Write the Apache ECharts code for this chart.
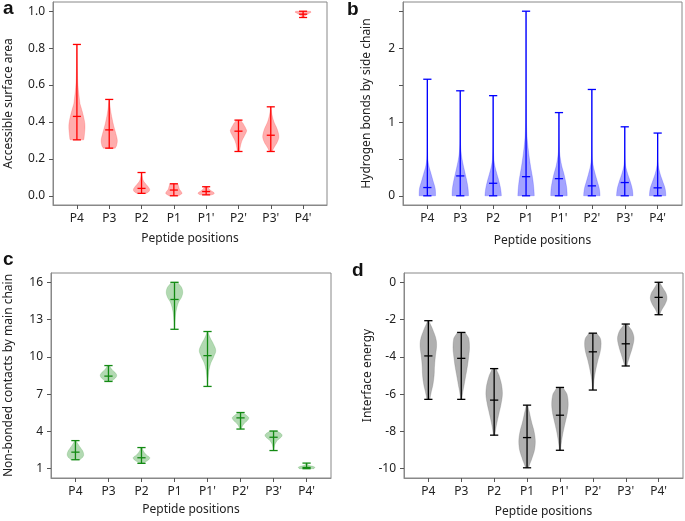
<!DOCTYPE html>
<html><head><meta charset="utf-8">
<script src="https://cdn.jsdelivr.net/npm/echarts@6/dist/echarts.min.js"></script>
<style>html,body{margin:0;padding:0;background:#fff}#c{width:685px;height:521px}</style>
</head><body><div id="c"></div><script>
// ---------- data ----------
const categories = ['P4', 'P3', 'P2', 'P1', "P1'", "P2'", "P3'", "P4'"];

// panel a: Accessible surface area
const asaMin    = [0.303, 0.258, 0.013, 0.000, 0.005, 0.240, 0.240, 0.966];
const asaMax    = [0.820, 0.522, 0.126, 0.065, 0.049, 0.410, 0.482, 1.000];
const asaCenter = [0.430, 0.357, 0.040, 0.031, 0.023, 0.350, 0.328, 0.984];
const asaShape = [
  [[0.82,0.01],[0.7,0.05],[0.6,0.13],[0.5,0.38],[0.45,0.7],[0.4,0.95],[0.37,1.0],[0.34,0.95],[0.31,0.88],[0.303,0.85]],
  [[0.522,0.03],[0.48,0.12],[0.45,0.22],[0.42,0.35],[0.38,0.55],[0.34,0.8],[0.30,1.0],[0.27,0.9],[0.258,0.75]],
  [[0.126,0.03],[0.1,0.1],[0.08,0.25],[0.06,0.6],[0.04,0.95],[0.03,1.0],[0.02,0.85],[0.013,0.6]],
  [[0.065,0.5],[0.05,0.6],[0.035,0.7],[0.02,0.95],[0.012,1.0],[0.005,0.8],[0.0,0.6]],
  [[0.049,0.2],[0.035,0.4],[0.025,0.7],[0.015,1.0],[0.008,0.9],[0.005,0.7]],
  [[0.41,0.3],[0.39,0.6],[0.36,0.95],[0.35,1.0],[0.33,0.8],[0.30,0.45],[0.27,0.25],[0.24,0.15]],
  [[0.482,0.03],[0.44,0.15],[0.40,0.4],[0.36,0.8],[0.32,1.0],[0.29,0.8],[0.26,0.4],[0.24,0.2]],
  [[1.0,0.9],[0.995,1.0],[0.99,0.8],[0.98,0.4],[0.97,0.15],[0.966,0.1]]
];

// panel b: Hydrogen bonds by side chain
const hbMin    = [0, 0, 0, 0, 0, 0, 0, 0];
const hbMax    = [1.583, 1.426, 1.360, 2.507, 1.130, 1.444, 0.937, 0.852];
const hbCenter = [0.112, 0.270, 0.170, 0.260, 0.233, 0.135, 0.180, 0.108];
const hbShape = [
  [[1.583,0.005],[1.0,0.01],[0.7,0.02],[0.5,0.06],[0.4,0.2],[0.3,0.45],[0.2,0.7],[0.1,0.95],[0,1.0]],
  [[1.426,0.005],[1.0,0.01],[0.7,0.04],[0.6,0.1],[0.5,0.22],[0.4,0.4],[0.3,0.6],[0.2,0.8],[0.1,0.95],[0,1.0]],
  [[1.36,0.005],[0.7,0.02],[0.5,0.08],[0.4,0.22],[0.3,0.45],[0.2,0.7],[0.1,0.9],[0,1.0]],
  [[2.507,0.005],[1.5,0.01],[1.0,0.05],[0.8,0.12],[0.6,0.3],[0.4,0.55],[0.2,0.85],[0,1.0]],
  [[1.13,0.005],[0.8,0.02],[0.6,0.07],[0.5,0.18],[0.4,0.35],[0.3,0.6],[0.2,0.8],[0.1,0.95],[0,1.0]],
  [[1.444,0.005],[0.7,0.02],[0.5,0.06],[0.4,0.18],[0.3,0.4],[0.2,0.65],[0.1,0.9],[0,1.0]],
  [[0.937,0.005],[0.5,0.04],[0.4,0.12],[0.3,0.35],[0.2,0.65],[0.1,0.9],[0,1.0]],
  [[0.852,0.005],[0.5,0.03],[0.4,0.1],[0.3,0.3],[0.2,0.6],[0.1,0.9],[0,1.0]]
];

// panel c: Non-bonded contacts by main chain
const ncMin    = [1.72, 8.02, 1.43, 12.22, 7.62, 4.19, 2.46, 1.00];
const ncMax    = [3.26, 9.30, 2.70, 16.00, 12.04, 5.52, 4.03, 1.45];
const ncCenter = [2.33, 8.45, 1.88, 14.62, 10.10, 5.09, 3.53, 1.10];
const ncShape = [
  [[3.26,0.1],[3.0,0.3],[2.7,0.6],[2.4,0.9],[2.1,1.0],[1.9,0.85],[1.72,0.55]],
  [[9.3,0.15],[9.0,0.4],[8.7,0.85],[8.5,1.0],[8.3,0.85],[8.1,0.5],[8.02,0.35]],
  [[2.7,0.1],[2.4,0.25],[2.1,0.6],[1.9,1.0],[1.7,0.85],[1.5,0.4],[1.43,0.3]],
  [[16.0,0.4],[15.6,0.85],[15.2,1.0],[14.8,0.85],[14.4,0.5],[14.0,0.3],[13.5,0.15],[13.0,0.08],[12.5,0.04],[12.22,0.02]],
  [[12.04,0.05],[11.5,0.35],[11.0,0.75],[10.5,1.0],[10.0,0.75],[9.5,0.4],[9.0,0.2],[8.5,0.1],[8.0,0.04],[7.62,0.02]],
  [[5.52,0.3],[5.3,0.7],[5.1,1.0],[4.9,0.85],[4.6,0.4],[4.3,0.15],[4.19,0.1]],
  [[4.03,0.45],[3.8,0.95],[3.6,1.0],[3.3,0.5],[3.0,0.2],[2.7,0.08],[2.46,0.05]],
  [[1.45,0.05],[1.3,0.2],[1.15,0.9],[1.1,1.0],[1.0,0.9]]
];

// panel d: Interface energy
const ieMin    = [-6.28, -6.28, -8.20, -9.95, -9.01, -5.78, -4.49, -1.74];
const ieMax    = [-2.06, -2.69, -4.63, -6.59, -5.64, -2.73, -2.24, 0.00];
const ieCenter = [-3.95, -4.08, -6.32, -8.33, -7.13, -3.73, -3.30, -0.81];
const ieShape = [
  [[-2.06,0.1],[-2.5,0.5],[-3.0,0.9],[-3.4,1.0],[-4.0,0.85],[-4.5,0.75],[-5.0,0.7],[-5.5,0.55],[-6.0,0.3],[-6.28,0.2]],
  [[-2.69,0.5],[-3.0,0.9],[-3.5,1.0],[-4.0,0.9],[-4.5,0.75],[-5.0,0.55],[-5.5,0.35],[-6.0,0.15],[-6.28,0.08]],
  [[-4.63,0.25],[-5.0,0.6],[-5.5,0.9],[-6.0,1.0],[-6.5,0.85],[-7.0,0.6],[-7.5,0.35],[-8.0,0.15],[-8.2,0.1]],
  [[-6.59,0.1],[-7.0,0.3],[-7.5,0.55],[-8.0,0.85],[-8.5,1.0],[-9.0,0.9],[-9.5,0.55],[-9.95,0.2]],
  [[-5.64,0.4],[-6.0,0.85],[-6.5,1.0],[-7.0,0.9],[-7.5,0.65],[-8.0,0.4],[-8.5,0.2],[-9.01,0.07]],
  [[-2.73,0.5],[-3.0,0.9],[-3.3,1.0],[-3.7,0.9],[-4.2,0.6],[-4.7,0.35],[-5.2,0.15],[-5.78,0.05]],
  [[-2.24,0.2],[-2.6,0.75],[-3.0,1.0],[-3.5,0.8],[-4.0,0.45],[-4.49,0.15]],
  [[0,0.15],[-0.3,0.5],[-0.6,0.9],[-0.9,1.0],[-1.2,0.75],[-1.5,0.35],[-1.74,0.15]]
];

// tick values
const asaTicks = [0, 0.2, 0.4, 0.6, 0.8, 1.0];
const hbTicks = [0, 0.5, 1, 1.5, 2, 2.5];
const hbLabels = [0, 1, 2];
const ncTicks = [1, 4, 7, 10, 13, 16];
const ieTicks = [-10, -8, -6, -4, -2, 0];

// ---------- rendering ----------
const FONT = 'Noto Sans';
const HALF = 0.25;   // max half width of a violin (category units)
const CAP = 0.125;   // half width of the extrema / center lines
const xPositions = categories.map((c, i) => i + 1);

function smoothProfile(p) {
  const out = [];
  const n = p.length;
  for (let k = 0; k < n - 1; k++) {
    const w0 = p[Math.max(k - 1, 0)][1], w1 = p[k][1], w2 = p[k + 1][1], w3 = p[Math.min(k + 2, n - 1)][1];
    const steps = 8;
    for (let s = 0; s < steps; s++) {
      const t = s / steps;
      const v = p[k][0] + (p[k + 1][0] - p[k][0]) * t;
      const t2 = t * t, t3 = t2 * t;
      let w = 0.5 * ((2 * w1) + (-w0 + w2) * t + (2 * w0 - 5 * w1 + 4 * w2 - w3) * t2 + (-w0 + 3 * w1 - 3 * w2 + w3) * t3);
      out.push([v, Math.max(0, w)]);
    }
  }
  out.push(p[n - 1]);
  return out;
}

function makeRender(shapes, mins, maxs, centers, fill, stroke) {
  return function (params, api) {
    const i = params.dataIndex;
    const x = api.value(0);
    const prof = smoothProfile(shapes[i]);
    const right = prof.map(([v, w]) => api.coord([x + w * HALF, v]));
    const left = prof.slice().reverse().map(([v, w]) => api.coord([x - w * HALF, v]));
    const ln = (a, b) => ({
      type: 'line',
      shape: { x1: a[0], y1: a[1], x2: b[0], y2: b[1] },
      style: { stroke: stroke, lineWidth: 1.3 }
    });
    const top = api.coord([x, maxs[i]]), bot = api.coord([x, mins[i]]);
    return {
      type: 'group',
      children: [
        { type: 'polygon', shape: { points: right.concat(left) }, style: { fill: fill, stroke: fill, lineWidth: 0.5 } },
        ln(top, bot),
        ln(api.coord([x - CAP, maxs[i]]), api.coord([x + CAP, maxs[i]])),
        ln(api.coord([x - CAP, mins[i]]), api.coord([x + CAP, mins[i]])),
        ln(api.coord([x - CAP, centers[i]]), api.coord([x + CAP, centers[i]]))
      ]
    };
  };
}

const labelStyle = { fontFamily: FONT, fontSize: 12, color: '#222' };
const grids = [
  { left: 53, top: 2, width: 274, height: 203 },
  { left: 403, top: 2, width: 279, height: 203 },
  { left: 51, top: 273, width: 280, height: 205 },
  { left: 404, top: 273, width: 279, height: 205 }
].map(g => Object.assign({ show: true, borderColor: '#888', borderWidth: 1, backgroundColor: 'transparent' }, g));

function xAxis(g, gap) {
  return {
    gridIndex: g, type: 'value', min: 0.26, max: 8.74,
    splitLine: { show: false },
    axisLine: { show: true, onZero: false, lineStyle: { color: '#888' } },
    axisTick: { show: true, length: 4, customValues: xPositions, lineStyle: { color: '#555' } },
    axisLabel: Object.assign({ customValues: xPositions, margin: 8, formatter: v => categories[Math.round(v) - 1] }, labelStyle),
    name: 'Peptide positions', nameLocation: 'middle', nameGap: gap,
    nameTextStyle: labelStyle
  };
}
function yAxis(g, min, max, ticks, labels, fmt, name, gap) {
  return {
    gridIndex: g, type: 'value', min: min, max: max,
    splitLine: { show: false },
    axisLine: { show: true, onZero: false, lineStyle: { color: '#888' } },
    axisTick: { show: true, length: 4, customValues: ticks, lineStyle: { color: '#555' } },
    axisLabel: Object.assign({ customValues: labels, margin: 8, formatter: fmt }, labelStyle),
    name: name, nameLocation: 'middle', nameGap: gap, nameRotate: 90,
    nameTextStyle: labelStyle
  };
}

function violinSeries(idx, shapes, mins, maxs, centers, fill, stroke) {
  return {
    type: 'custom', coordinateSystem: 'cartesian2d', xAxisIndex: idx, yAxisIndex: idx,
    clip: false, silent: true,
    renderItem: makeRender(shapes, mins, maxs, centers, fill, stroke),
    data: xPositions.map((x, i) => [x, centers[i]]),
    encode: { x: 0, y: 1 }
  };
}

const letter = (t, x, y) => ({
  type: 'text', left: x, top: y,
  style: { text: t, font: 'bold 19px "Liberation Sans", Arial, sans-serif', fill: '#111' }
});

const option = {
  animation: false,
  backgroundColor: '#fff',
  grid: grids,
  xAxis: [xAxis(0, 28), xAxis(1, 30), xAxis(2, 26), xAxis(3, 28)],
  yAxis: [
    yAxis(0, -0.05, 1.05, asaTicks, asaTicks, v => v.toFixed(1), 'Accessible surface area', 38),
    yAxis(1, -0.125, 2.632, hbTicks, hbLabels, v => String(v), 'Hydrogen bonds by side chain', 30),
    yAxis(2, 0.25, 16.75, ncTicks, ncTicks, v => String(v), 'Non-bonded contacts by main chain', 36),
    yAxis(3, -10.4975, 0.4975, ieTicks, ieTicks, v => String(v), 'Interface energy', 30)
  ],
  series: [
    violinSeries(0, asaShape, asaMin, asaMax, asaCenter, 'rgba(255,0,0,0.32)', '#ff0000'),
    violinSeries(1, hbShape, hbMin, hbMax, hbCenter, 'rgba(0,0,255,0.36)', '#0000ff'),
    violinSeries(2, ncShape, ncMin, ncMax, ncCenter, 'rgba(0,128,0,0.3)', '#138a13'),
    violinSeries(3, ieShape, ieMin, ieMax, ieCenter, 'rgba(110,110,110,0.55)', '#000000')
  ],
  graphic: [letter('a', 3, -1), letter('b', 347, 0), letter('c', 3, 250), letter('d', 352, 261)]
};

const chart = echarts.init(document.getElementById('c'), null, { renderer: 'canvas' });
chart.setOption(option);
</script></body></html>
